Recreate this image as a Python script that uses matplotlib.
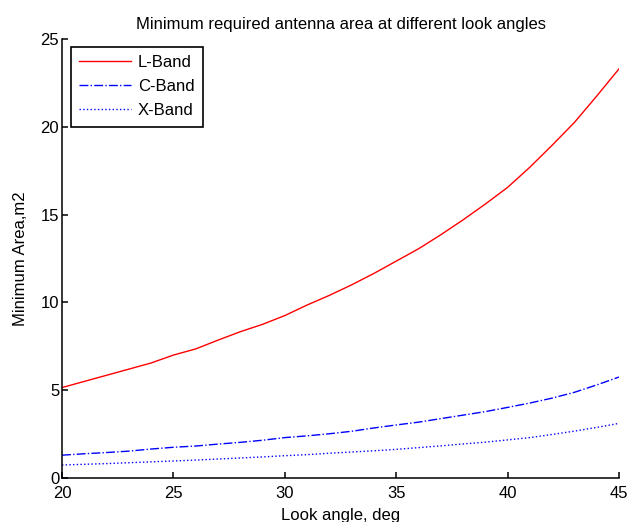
import matplotlib
matplotlib.use("Agg")
import matplotlib.pyplot as plt

plt.rcParams["font.family"] = ["Liberation Sans", "DejaVu Sans"]
plt.rcParams["font.size"] = 12

look_angle = list(range(20, 46))
l_band = [5.15, 5.5, 5.85, 6.2, 6.55, 7.0, 7.35, 7.85, 8.33, 8.75,
          9.25, 9.85, 10.4, 11.0, 11.65, 12.35, 13.05, 13.85, 14.7, 15.6,
          16.55, 17.7, 18.95, 20.25, 21.75, 23.3]
c_band = [1.3, 1.38, 1.45, 1.53, 1.65, 1.75, 1.82, 1.93, 2.03, 2.15,
          2.3, 2.4, 2.52, 2.66, 2.85, 3.02, 3.18, 3.38, 3.58, 3.78,
          4.02, 4.27, 4.55, 4.88, 5.3, 5.75]
x_band = [0.74, 0.78, 0.82, 0.87, 0.92, 0.97, 1.02, 1.08, 1.14, 1.2,
          1.27, 1.33, 1.41, 1.48, 1.55, 1.63, 1.73, 1.83, 1.94, 2.04,
          2.17, 2.3, 2.48, 2.67, 2.88, 3.11]

fig = plt.figure(figsize=(6.27, 5.22), dpi=100)
ax = fig.add_axes([62 / 627, 44 / 522, 557 / 627, 439 / 522])

ax.plot(look_angle, l_band, color="red", linestyle="-", linewidth=1.0, label="L-Band")
ax.plot(look_angle, c_band, color="blue", linestyle="-.", linewidth=1.0, label="C-Band")
ax.plot(look_angle, x_band, color="blue", linestyle=":", linewidth=1.0, label="X-Band")

ax.set_xlim(20, 45)
ax.set_ylim(0, 25)
ax.set_xticks([20, 25, 30, 35, 40, 45])
ax.set_yticks([0, 5, 10, 15, 20, 25])
ax.spines["top"].set_visible(False)
ax.spines["right"].set_visible(False)
for side in ("left", "bottom"):
    ax.spines[side].set_linewidth(1.1)
ax.tick_params(direction="in", length=4, width=1.1, labelsize=12)
ax.tick_params(axis="x", pad=6)
ax.tick_params(axis="y", pad=2)

ax.set_title("Minimum required antenna area at different look angles", fontsize=12, pad=7)
ax.set_xlabel("Look angle, deg", fontsize=12, labelpad=5)
ax.set_ylabel("Minimum Area,m2", fontsize=12, labelpad=9)

leg = ax.legend(loc="upper left", bbox_to_anchor=(0.016, 0.982), borderaxespad=0,
                fancybox=False, framealpha=1, edgecolor="black", fontsize=12,
                handlelength=3.1, handletextpad=0.42, labelspacing=0.54,
                borderpad=0.5)
leg.get_frame().set_linewidth(1.2)

fig.savefig("out.png", dpi=100)
